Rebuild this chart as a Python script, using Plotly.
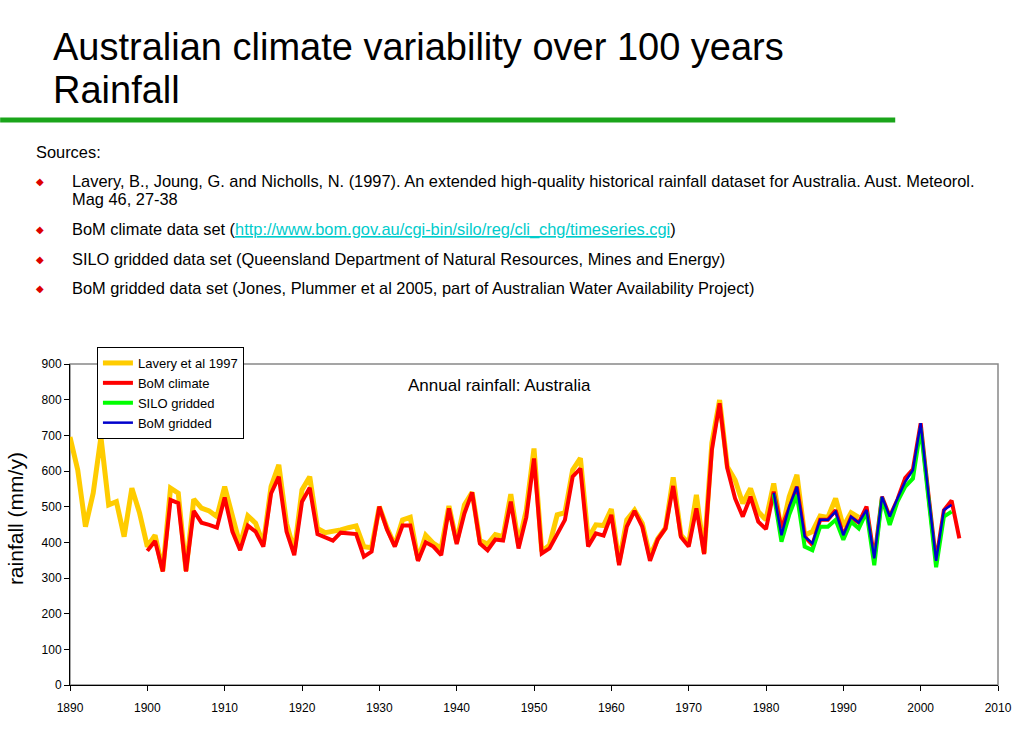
import plotly.graph_objects as go

# ---- data ----
lavery_years = list(range(1890, 1993))
lavery = [695, 603, 444, 538, 695, 505, 514, 416, 552, 482,
          388, 420, 320, 552, 538, 320, 521, 496, 488, 472,
          556, 468, 392, 474, 454, 395, 556, 617, 453, 375,
          547, 584, 439, 427, 430, 435, 441, 446, 388, 385,
          500, 440, 392, 463, 470, 352, 420, 397, 383, 502,
          400, 505, 540, 405, 395, 422, 416, 535, 395, 490,
          663, 375, 392, 477, 483, 603, 636, 411, 449, 447,
          493, 345, 463, 490, 453, 360, 410, 440, 582, 420,
          397, 533, 370, 678, 799, 612, 575, 509, 551, 486,
          463, 565, 430, 528, 589, 420, 430, 474, 470, 523,
          444, 483, 470]

bom_years = list(range(1900, 2006))
bom_climate = [376, 404, 318, 519, 510, 318, 488, 455, 449, 441,
               526, 430, 378, 447, 430, 388, 537, 584, 430, 364,
               514, 553, 423, 413, 405, 427, 425, 423, 360, 374,
               500, 435, 388, 447, 447, 348, 400, 388, 364, 495,
               395, 481, 540, 397, 378, 408, 405, 514, 383, 470,
               635, 369, 383, 425, 463, 584, 607, 388, 425, 419,
               477, 336, 444, 488, 444, 348, 408, 439, 558, 415,
               388, 495, 367, 659, 790, 607, 523, 472, 528, 458,
               437, 542, 440, 495, 556, 416, 393, 463, 463, 490,
               420, 470, 455, 500, 355, 528, 472, 520, 580, 605,
               734, 535, 348, 490, 517, 411]

grid_years = list(range(1981, 2005))
silo = [535, 402, 477, 533, 388, 378, 444, 444, 463, 407, 458, 439,
        485, 336, 525, 449, 514, 556, 579, 720, 525, 330, 472, 486]
bom_gridded = [539, 420, 500, 556, 416, 397, 463, 463, 486, 420, 472, 455,
               491, 355, 528, 472, 523, 570, 603, 734, 535, 348, 491, 505]

y_ticks = [0, 100, 200, 300, 400, 500, 600, 700, 800, 900]
x_ticks = [1890, 1900, 1910, 1920, 1930, 1940, 1950, 1960, 1970, 1980, 1990, 2000, 2010]

FONT = "Liberation Sans, Arial, sans-serif"

fig = go.Figure()
fig.add_trace(go.Scatter(x=lavery_years, y=lavery, mode="lines", name="Lavery et al 1997",
                         line=dict(color="#FFCC00", width=5)))
fig.add_trace(go.Scatter(x=bom_years, y=bom_climate, mode="lines", name="BoM climate",
                         line=dict(color="#FF0000", width=4)))
fig.add_trace(go.Scatter(x=grid_years, y=silo, mode="lines", name="SILO gridded",
                         line=dict(color="#00FF00", width=4)))
fig.add_trace(go.Scatter(x=grid_years, y=bom_gridded, mode="lines", name="BoM gridded",
                         line=dict(color="#0000CC", width=2.5)))

W, H = 1024, 737
L, R, T, B = 70, 24, 364, 52
pw, ph = W - L - R, H - T - B


def px(x):
    return (x - L) / pw


def py(y):
    return (H - B - y) / ph


annotations = []
# title
annotations.append(dict(x=px(51), y=py(47), xref="paper", yref="paper", xanchor="left", yanchor="middle",
                        text="Australian climate variability over 100 years", showarrow=False,
                        font=dict(family=FONT, size=38, color="black")))
annotations.append(dict(x=px(51), y=py(90), xref="paper", yref="paper", xanchor="left", yanchor="middle",
                        text="Rainfall", showarrow=False,
                        font=dict(family=FONT, size=38, color="black")))
# sources
annotations.append(dict(x=px(34), y=py(152), xref="paper", yref="paper", xanchor="left", yanchor="middle",
                        text="Sources:", showarrow=False, font=dict(family=FONT, size=16.4, color="black")))
src_lines = [
    (181, "Lavery, B., Joung, G. and Nicholls, N. (1997). An extended high-quality historical rainfall dataset for Australia. Aust. Meteorol.", True),
    (199, "Mag 46, 27-38", False),
    (229, "BoM climate data set (<span style='color:#00CCCC;text-decoration:underline'>http://www.bom.gov.au/cgi-bin/silo/reg/cli_chg/timeseries.cgi</span>)", True),
    (259, "SILO gridded data set (Queensland Department of Natural Resources, Mines and Energy)", True),
    (288, "BoM gridded data set (Jones, Plummer et al 2005, part of Australian Water Availability Project)", True),
]
for yy, txt, bullet in src_lines:
    annotations.append(dict(x=px(70), y=py(yy), xref="paper", yref="paper", xanchor="left", yanchor="middle",
                            text=txt, showarrow=False, font=dict(family=FONT, size=16.4, color="black")))
    if bullet:
        annotations.append(dict(x=px(40), y=py(yy), xref="paper", yref="paper", xanchor="center",
                                yanchor="middle", text="◆", showarrow=False,
                                font=dict(family="DejaVu Sans", size=10, color="#DD0000")))
# chart annotation
annotations.append(dict(x=px(500), y=py(385), xref="paper", yref="paper", xanchor="center", yanchor="middle",
                        text="Annual rainfall: Australia", showarrow=False,
                        font=dict(family=FONT, size=17, color="black")))
# y axis title
annotations.append(dict(x=px(15), y=py(519), xref="paper", yref="paper", xanchor="center", yanchor="middle",
                        text="rainfall (mm/y)", textangle=-90, showarrow=False,
                        font=dict(family=FONT, size=21, color="black")))

shapes = [
    dict(type="line", xref="paper", yref="paper", x0=px(0), x1=px(897), y0=py(120), y1=py(120),
         line=dict(color="#1AA51A", width=5)),
    dict(type="rect", xref="paper", yref="paper", x0=0, x1=1, y0=0, y1=1,
         line=dict(color="#888888", width=1.5), layer="below"),
]

fig.update_layout(
    width=W, height=H,
    margin=dict(l=L, r=R, t=T, b=B),
    paper_bgcolor="white", plot_bgcolor="white",
    font=dict(family=FONT, size=12, color="black"),
    showlegend=True,
    legend=dict(x=px(97), y=py(347), xanchor="left", yanchor="top", bgcolor="white",
                bordercolor="black", borderwidth=1, font=dict(family=FONT, size=13, color="black"),
                itemwidth=30, tracegroupgap=0),
    annotations=annotations,
    shapes=shapes,
    xaxis=dict(range=[1890, 2010], tickvals=x_ticks, ticks="outside", ticklen=5, tickcolor="black",
               showline=True, linecolor="black", linewidth=1, showgrid=False, zeroline=False,
               ticklabelstandoff=7, tickfont=dict(size=12)),
    yaxis=dict(range=[0, 900], tickvals=y_ticks, ticks="outside", ticklen=5, tickcolor="black",
               showline=True, linecolor="black", linewidth=1, showgrid=False, zeroline=False,
               tickfont=dict(size=12)),
)

fig.write_html("out.html")
